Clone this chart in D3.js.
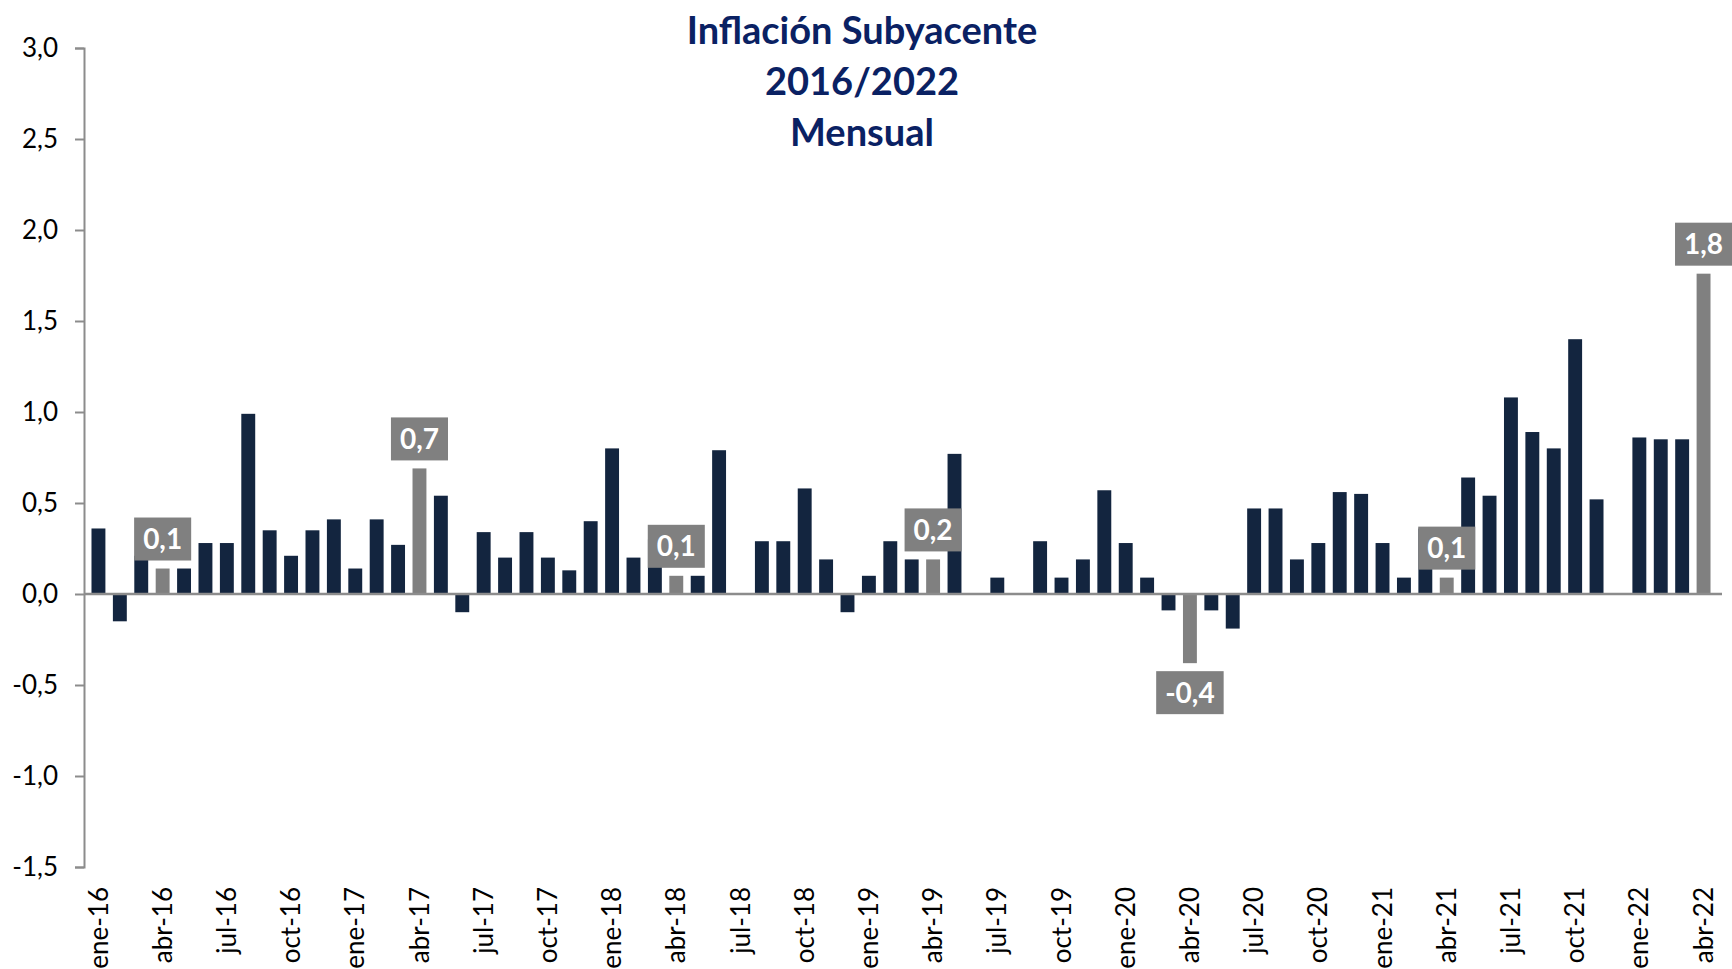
<!DOCTYPE html>
<html>
<head>
<meta charset="utf-8">
<script src="https://cdn.jsdelivr.net/npm/d3@7"></script>
<style>
  html, body { margin: 0; padding: 0; background: #fff; }
  #chart { width: 1732px; height: 969px; }
</style>
</head>
<body>
<div id="chart"></div>
<script>
// --- datos ---
const months = [
  "ene-16","feb-16","mar-16","abr-16","may-16","jun-16","jul-16","ago-16","sep-16","oct-16","nov-16","dic-16",
  "ene-17","feb-17","mar-17","abr-17","may-17","jun-17","jul-17","ago-17","sep-17","oct-17","nov-17","dic-17",
  "ene-18","feb-18","mar-18","abr-18","may-18","jun-18","jul-18","ago-18","sep-18","oct-18","nov-18","dic-18",
  "ene-19","feb-19","mar-19","abr-19","may-19","jun-19","jul-19","ago-19","sep-19","oct-19","nov-19","dic-19",
  "ene-20","feb-20","mar-20","abr-20","may-20","jun-20","jul-20","ago-20","sep-20","oct-20","nov-20","dic-20",
  "ene-21","feb-21","mar-21","abr-21","may-21","jun-21","jul-21","ago-21","sep-21","oct-21","nov-21","dic-21",
  "ene-22","feb-22","mar-22","abr-22"
];
const values = [
  0.36, -0.15, 0.21, 0.14, 0.14, 0.28, 0.28, 0.99, 0.35, 0.21, 0.35, 0.41,
  0.14, 0.41, 0.27, 0.69, 0.54, -0.10, 0.34, 0.20, 0.34, 0.20, 0.13, 0.40,
  0.80, 0.20, 0.30, 0.10, 0.10, 0.79, 0.00, 0.29, 0.29, 0.58, 0.19, -0.10,
  0.10, 0.29, 0.19, 0.19, 0.77, 0.00, 0.09, 0.00, 0.29, 0.09, 0.19, 0.57,
  0.28, 0.09, -0.09, -0.38, -0.09, -0.19, 0.47, 0.47, 0.19, 0.28, 0.56, 0.55,
  0.28, 0.09, 0.36, 0.09, 0.64, 0.54, 1.08, 0.89, 0.80, 1.40, 0.52, 0.00,
  0.86, 0.85, 0.85, 1.76
];
// meses destacados (abril) con su etiqueta
const highlightMonths = ["abr-16","abr-17","abr-18","abr-19","abr-20","abr-21","abr-22"];
const highlightLabels = ["0,1","0,7","0,1","0,2","-0,4","0,1","1,8"];
const yTicks = [-1.5, -1.0, -0.5, 0.0, 0.5, 1.0, 1.5, 2.0, 2.5, 3.0];
const titleLines = ["Inflación Subyacente", "2016/2022", "Mensual"];

const width = 1732, height = 969;
const margin = { left: 84, right: 1718, top: 48, bottom: 867 };
const font = "Lato, 'Open Sans', sans-serif";

const data = months.map((m, i) => ({ month: m, value: values[i] }));

const svg = d3.select("#chart").append("svg")
  .attr("width", width)
  .attr("height", height);

// escalas
const x = d3.scaleBand().domain(months).range([margin.left, margin.right]).padding(0.35);
const y = d3.scaleLinear().domain([-1.5, 3.0]).range([margin.bottom, margin.top]);

// eje Y (guion normal en los negativos, como en el original)
const yAxis = svg.append("g")
  .attr("transform", `translate(${margin.left},0)`)
  .call(d3.axisLeft(y).tickValues(yTicks).tickSize(9).tickPadding(17)
    .tickFormat(d => d3.format(".1f")(d).replace(".", ",").replace("\u2212", "-")));
yAxis.select(".domain").attr("stroke", "#8c8c8c").attr("stroke-width", 2);
yAxis.selectAll(".tick line").attr("stroke", "#8c8c8c").attr("stroke-width", 2);
yAxis.selectAll(".tick text")
  .attr("fill", "#000")
  .style("font-family", font)
  .style("font-size", "26px");

// barras
svg.append("g").selectAll("rect")
  .data(data)
  .enter()
  .append("rect")
  .attr("x", d => x(d.month))
  .attr("width", x.bandwidth())
  .attr("y", d => y(Math.max(0, d.value)))
  .attr("height", d => Math.abs(y(d.value) - y(0)))
  .attr("fill", d => highlightMonths.includes(d.month) ? "#808080" : "#13253f");

// línea del cero
svg.append("line")
  .attr("x1", margin.left).attr("x2", margin.right + 4)
  .attr("y1", y(0)).attr("y2", y(0))
  .attr("stroke", "#8c8c8c")
  .attr("stroke-width", 2.5);

// etiquetas del eje X (cada 3 meses)
svg.append("g").selectAll("text")
  .data(months.filter((m, i) => i % 3 === 0))
  .enter()
  .append("text")
  .attr("transform", d => `translate(${x(d) + x.bandwidth() / 2},${margin.bottom + 20}) rotate(-90)`)
  .attr("text-anchor", "end")
  .attr("dy", "0.35em")
  .attr("fill", "#000")
  .style("font-family", font)
  .style("font-size", "26px")
  .text(d => d);

// cajas de etiquetas para los meses destacados
const boxH = 43, gap = 8;
const labels = svg.append("g").selectAll("g")
  .data(highlightMonths.map((m, i) => ({ month: m, label: highlightLabels[i], value: values[months.indexOf(m)] })))
  .enter()
  .append("g");

labels.each(function(d) {
  const g = d3.select(this);
  const cx = x(d.month) + x.bandwidth() / 2;
  const t = g.append("text")
    .attr("x", cx)
    .attr("text-anchor", "middle")
    .attr("fill", "#fff")
    .style("font-family", font)
    .style("font-weight", "bold")
    .style("font-size", "28px")
    .text(d.label);
  const w = t.node().getComputedTextLength() + 18;
  const by = d.value >= 0 ? y(d.value) - gap - boxH : y(d.value) + gap;
  g.insert("rect", "text")
    .attr("x", cx - w / 2)
    .attr("y", by)
    .attr("width", w)
    .attr("height", boxH)
    .attr("fill", "#808080");
  t.attr("y", by + boxH / 2).attr("dy", "0.36em");
});

// título
svg.append("text")
  .attr("x", 862)
  .attr("y", 44)
  .attr("text-anchor", "middle")
  .attr("fill", "#0a2163")
  .style("font-family", font)
  .style("font-weight", "bold")
  .style("font-size", "38px")
  .selectAll("tspan")
  .data(titleLines)
  .enter()
  .append("tspan")
  .attr("x", 862)
  .attr("dy", (d, i) => i === 0 ? 0 : 51)
  .text(d => d);
</script>
</body>
</html>
